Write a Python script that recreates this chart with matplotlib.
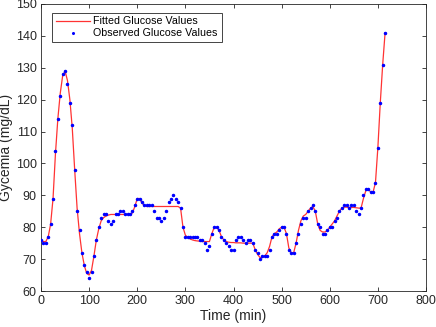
import matplotlib
matplotlib.use("Agg")
import matplotlib.pyplot as plt
import numpy as np

plt.rcParams['font.family'] = ['Liberation Sans', 'DejaVu Sans']

# Observation times (min)
time_min = list(range(0, 720, 5))

observed = [
    76, 75, 75, 77, 81, 89, 104, 114, 121, 128,   # 0-45
    129, 125, 119, 112, 98, 85, 79, 72, 68, 66,   # 50-95
    64, 66, 71, 76, 80, 83, 84, 84, 82, 81,       # 100-145
    82, 84, 84, 85, 85, 84, 84, 84, 85, 87,       # 150-195
    89, 89, 88, 87, 87, 87, 87, 85, 83, 83,       # 200-245
    82, 83, 85, 88, 89, 90, 89, 88, 86, 80,       # 250-295
    77, 77, 77, 77, 77, 77, 76, 76, 75, 73,       # 300-345
    74, 78, 80, 80, 79, 77, 76, 75, 74, 73,       # 350-395
    73, 76, 77, 77, 76, 75, 76, 76, 75, 73,       # 400-445
    72, 70, 71, 71, 71, 73, 77, 78, 78, 79,       # 450-495
    80, 80, 78, 73, 72, 72, 75, 78, 81, 83,       # 500-545
    83, 85, 86, 87, 85, 81, 80, 78, 78, 79,       # 550-595
    80, 80, 82, 83, 85, 86, 87, 87, 86, 87,       # 600-645
    87, 85, 84, 86, 90, 92, 92, 91, 91, 94,       # 650-695
    105, 119, 131, 141,                            # 700-715
]

fitted = [
    76, 75.5, 75.5, 77, 81, 89, 103, 114, 122, 127.5,
    129, 126, 120, 111, 98, 86, 78, 72, 68, 65.5,
    65, 66.5, 71, 76, 79.5, 82, 83, 83.5, 83.8, 84,
    84, 84, 84, 84, 84, 84, 84, 84, 84.5, 86.5,
    89, 89, 87.5, 86.8, 86.5, 86.5, 86.5, 86.5, 86.5, 86.5,
    86.5, 86.5, 86.5, 86.5, 86.5, 86.5, 86.5, 86.5, 86, 80,
    77.5, 76.8, 76.3, 76, 75.8, 75.7, 75.6, 75.5, 75.5, 75.5,
    75.5, 78, 80, 80, 79, 77, 76, 75.5, 75.3, 75.2,
    75.2, 75.1, 75.1, 75.1, 75, 75, 75, 75, 75, 73,
    71.5, 70.5, 70.5, 71, 72, 74, 77, 78, 78.5, 79.5,
    80, 80, 78, 73.5, 72, 72, 75, 79, 82, 83.5,
    84, 85, 86, 86.5, 85, 81, 79, 78.5, 78.5, 79,
    80, 81, 82, 83.5, 85, 86, 86.3, 86.3, 86.2, 86.2,
    86.2, 86.1, 86, 86, 89, 91.5, 92, 91, 91, 94,
    105, 119, 131, 141,
]

xticks = [0, 100, 200, 300, 400, 500, 600, 700, 800]
yticks = [60, 70, 80, 90, 100, 110, 120, 130, 140, 150]

fig = plt.figure(figsize=(4.36, 3.27), dpi=100)
ax = fig.add_axes([41/436, 36/327, 385/436, 287/327])

ax.plot(time_min, fitted, color='#ff3333', lw=0.9, label='Fitted Glucose Values', zorder=2)
ax.plot(time_min, observed, linestyle='none', marker='.', color='#0000ff',
        markersize=3.0, label='Observed Glucose Values', zorder=3)

ax.set_xlim(0, 800)
ax.set_ylim(60, 150)
ax.set_xticks(xticks)
ax.set_yticks(yticks)
ax.tick_params(direction='in', length=3, width=0.6, top=True, right=True,
               labelsize=9, colors='#262626', pad=3)
for s in ax.spines.values():
    s.set_color('#262626')
    s.set_linewidth(0.6)

ax.set_xlabel('Time (min)', fontsize=10, color='#262626', labelpad=1)
ax.set_ylabel('Gycemia (mg/dL)', fontsize=10, color='#262626', labelpad=2)

leg = ax.legend(loc='upper left', fontsize=7.7, frameon=True, fancybox=False,
                edgecolor='#262626', framealpha=1, borderpad=0.35,
                handlelength=3.2, handletextpad=0.35, labelspacing=0.2,
                bbox_to_anchor=(0.028, 0.970), borderaxespad=0.0,
                markerscale=0.8)
leg.get_frame().set_linewidth(0.6)

fig.savefig('out.png', dpi=100)
